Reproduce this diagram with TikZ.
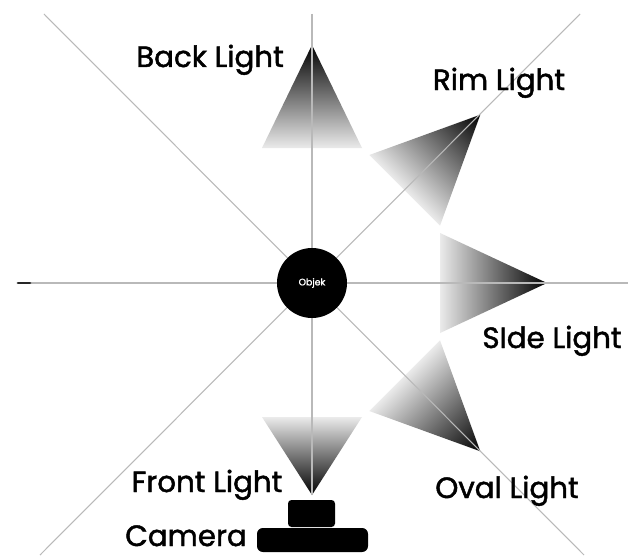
\documentclass[tikz,border=0pt]{standalone}
\usepackage{fontspec}
\setmainfont{Poppins}
\newfontfamily\capfont{Poppins}[FakeBold=1.6]
\tikzset{
  guide/.style   = {draw=gray!55, line width=0.9},
  lamp/.style    = {left color=white!92!black, right color=black},
  caption/.style = {font=\capfont\fontsize{25}{30}\selectfont, anchor=base, inner sep=0pt},
  block/.style   = {fill=black, rounded corners=5},
}
% one light: #1 angle, #2 apex radius, #3 base radius
\newcommand{\lamp}[3]{%
  \begin{scope}[transform canvas={rotate=#1}]
    \shade[lamp] (#3,-50) -- (#2,0) -- (#3,50) -- cycle;
  \end{scope}}

\begin{document}
\begin{tikzpicture}[x=0.03cm, y=0.03cm]
  \useasboundingbox[fill=white] (-312,-272) rectangle (316,283);

  % lights
  \lamp{90}{238}{135}
  \lamp{45}{238}{131}
  \lamp{0}{235}{128}
  \lamp{-45}{238}{131}
  \lamp{-90}{212}{134}

  % guide lines
  \coordinate (top) at (0,269);
  \coordinate (bot) at (0,-212);
  \coordinate (west) at (-294,0);
  \coordinate (east) at (316,0);
  \coordinate (nw) at (-268,269);
  \coordinate (ne) at (268,269);
  \coordinate (sw) at (-272,-272);
  \coordinate (se) at (272,-272);
  \draw[guide] (top) -- (bot);
  \draw[guide] (west) -- (east);
  \draw[guide] (nw) -- (se);
  \draw[guide] (ne) -- (sw);
  \draw[black!85, line width=2.5, line cap=round] (west) -- ++(12,0);

  % object
  \node[circle, fill=black, minimum size=70*0.03cm, inner sep=0pt,
        text=white, font=\capfont\fontsize{8}{9}\selectfont] (obj) at (0,0) {Objek};

  % camera
  \fill[block, rounded corners=3] (-24,-244) rectangle (23,-217);
  \fill[block] (-55,-269) rectangle (56,-245);

  % texts
  \node[caption] (back)  at (-102,216) {Back Light};
  \node[caption] (rim)   at (187,193)  {Rim Light};
  \node[caption] (side)  at (240,-65)  {SIde Light};
  \node[caption] (front) at (-105,-209) {Front Light};
  \node[caption] (oval)  at (195,-215) {Oval Light};
  \node[caption] (cam)   at (-126,-263) {Camera};
\end{tikzpicture}
\end{document}
